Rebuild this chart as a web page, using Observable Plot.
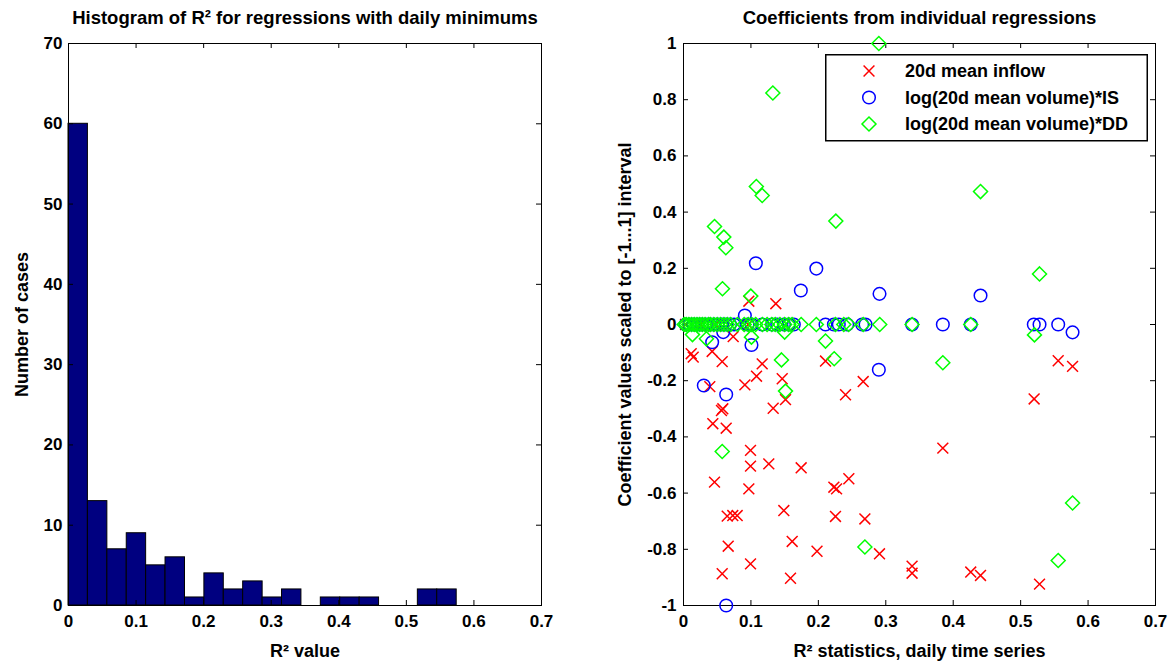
<!DOCTYPE html>
<html>
<head>
<meta charset="utf-8">
<script src="https://cdn.jsdelivr.net/npm/d3@7"></script>
<script src="https://cdn.jsdelivr.net/npm/@observablehq/plot@0.6"></script>
<style>
  body { margin: 0; background: #fff; }
  #wrap { position: relative; width: 1173px; height: 665px; overflow: hidden; }
  #left { position: absolute; left: 0; top: 0; }
  #right { position: absolute; left: 600px; top: 0; }
  #legend { position: absolute; left: 825px; top: 54px; }
  text { fill: #000; }
</style>
</head>
<body>
<div id="wrap">
  <div id="left"></div>
  <div id="right"></div>
  <div id="legend"></div>
</div>
<script>
// ---------- Left panel: histogram of R^2 ----------
const histTitle = "Histogram of R² for regressions with daily minimums";
const histXLabel = "R² value";
const histYLabel = "Number of cases";
const histCounts = [60, 13, 7, 9, 5, 6, 1, 4, 2, 3, 1, 2, 0, 1, 1, 1, 0, 0, 2, 2];
const histEdges = [0, 0.0287, 0.0575, 0.0862, 0.1149, 0.1436, 0.1724, 0.2011, 0.2298, 0.2585,
                   0.2873, 0.3160, 0.3447, 0.3734, 0.4021, 0.4309, 0.4596, 0.4883, 0.5170, 0.5457, 0.5745];
const histXTicks = [0, 0.1, 0.2, 0.3, 0.4, 0.5, 0.6, 0.7];
const histYTicks = [0, 10, 20, 30, 40, 50, 60, 70];

// ---------- Right panel: coefficients ----------
const scatTitle = "Coefficients from individual regressions";
const scatXLabel = "R² statistics, daily time series";
const scatYLabel = "Coefficient values scaled to [-1...1] interval";
const seriesNames = ["20d mean inflow", "log(20d mean volume)*IS", "log(20d mean volume)*DD"];
const scatXTicks = [0, 0.1, 0.2, 0.3, 0.4, 0.5, 0.6, 0.7];
const scatYTicks = [-1, -0.8, -0.6, -0.4, -0.2, 0, 0.2, 0.4, 0.6, 0.8, 1];

// 20d mean inflow (red x): [R2, coefficient]
const inflowR2 = [0.003, 0.025, 0.047, 0.096, 0.0969, 0.1369, 0.0737, 0.0114, 0.0144, 0.0425, 0.0574,
  0.1167, 0.2106, 0.1083, 0.091, 0.1464, 0.039, 0.2665, 0.2403, 0.1513, 0.133, 0.0563, 0.0583,
  0.0435, 0.0633, 0.0994, 0.0994, 0.1265, 0.1745, 0.046, 0.2452, 0.223, 0.227, 0.0969,
  0.0648, 0.0731, 0.0796, 0.1488, 0.2254, 0.269, 0.0663, 0.1612, 0.198, 0.2907, 0.0994,
  0.0574, 0.1587, 0.339, 0.339, 0.426, 0.4405, 0.528, 0.3846, 0.520, 0.5557, 0.577];
const inflowCoef = [0, 0, 0, 0, 0.083, 0.074, -0.043, -0.104, -0.116, -0.096, -0.132,
  -0.140, -0.130, -0.184, -0.215, -0.193, -0.221, -0.203, -0.250, -0.267, -0.298, -0.306, -0.300,
  -0.353, -0.369, -0.448, -0.504, -0.496, -0.510, -0.561, -0.549, -0.579, -0.585, -0.585,
  -0.682, -0.680, -0.680, -0.662, -0.683, -0.692, -0.789, -0.772, -0.807, -0.816, -0.852,
  -0.887, -0.903, -0.860, -0.885, -0.881, -0.893, -0.924, -0.440, -0.265, -0.129, -0.149];

// log(20d mean volume)*IS (blue o)
const isR2 = [0.1073, 0.197, 0.174, 0.2907, 0.4405, 0.091, 0.0425, 0.1008, 0.0589, 0.2897, 0.0301,
  0.0633, 0.0633, 0.577,
  0.003, 0.009, 0.015, 0.021, 0.027, 0.033, 0.039, 0.045, 0.051, 0.057, 0.063, 0.069, 0.075,
  0.095, 0.101, 0.1167, 0.1315, 0.139, 0.149, 0.156, 0.1636, 0.2106, 0.223, 0.2303, 0.2428,
  0.265, 0.27, 0.339, 0.3846, 0.426, 0.5195, 0.528, 0.5557];
const isCoef = [0.218, 0.199, 0.121, 0.109, 0.103, 0.032, -0.063, -0.073, -0.027, -0.161, -0.217,
  -0.249, -1.0, -0.028,
  0, 0, 0, 0, 0, 0, 0, 0, 0, 0, 0, 0, 0,
  0, 0, 0, 0, 0, 0, 0, 0, 0, 0, 0, 0,
  0, 0, 0, 0, 0, 0, 0, 0];

// log(20d mean volume)*DD (green diamond)
const ddR2 = [0.2897, 0.1325, 0.108, 0.1167, 0.046, 0.0598, 0.0628, 0.2259, 0.0578, 0.0998, 0.4405,
  0.528, 0.0133, 0.034, 0.1008, 0.150, 0.2106, 0.1453, 0.2235, 0.1513, 0.0574, 0.269, 0.3846,
  0.5205, 0.577, 0.5557,
  0.001, 0.004, 0.008, 0.012, 0.016, 0.020, 0.024, 0.028, 0.032, 0.037, 0.040, 0.045, 0.050,
  0.055, 0.060, 0.065, 0.070, 0.080, 0.090, 0.096, 0.101, 0.107, 0.117, 0.124, 0.131, 0.136,
  0.143, 0.150, 0.156, 0.161, 0.1745, 0.197, 0.2254, 0.2377, 0.245, 0.2665, 0.291, 0.339, 0.426];
const ddCoef = [1.0, 0.824, 0.491, 0.459, 0.349, 0.311, 0.273, 0.368, 0.127, 0.101, 0.473,
  0.180, -0.036, -0.051, -0.045, -0.027, -0.059, -0.126, -0.122, -0.237, -0.452, -0.792, -0.136,
  -0.037, -0.635, -0.840,
  0, 0, 0, 0, 0, 0, 0, 0, 0, 0, 0, 0, 0,
  0, 0, 0, 0, 0, 0, 0, 0, 0, 0, 0, 0, 0,
  0, 0, 0, 0, 0, 0, 0, 0, 0, 0, 0, 0, 0];

const seriesColors = ["#ff0000", "#0000ff", "#00ff00"];
const seriesSymbols = ["times", "circle", "diamond2"];

// ---------- build ----------
const FONT = "'Liberation Sans', Arial, Helvetica, sans-serif";
const W1 = 600, W2 = 573, H = 665;
const mTop = 43, mBottom = 60;
const innerH = H - mTop - mBottom;

const bins = histCounts.map((c, i) => ({x1: histEdges[i], x2: histEdges[i + 1], count: c}));

function boxTicks(xt, yt, innerW) {
  const st = {stroke: "#000", strokeWidth: 1};
  return [
    Plot.tickX(xt, {x: d => d, insetTop: innerH - 5, ...st}),
    Plot.tickX(xt, {x: d => d, insetBottom: innerH - 5, ...st}),
    Plot.tickY(yt, {y: d => d, insetRight: innerW - 5, ...st}),
    Plot.tickY(yt, {y: d => d, insetLeft: innerW - 5, ...st})
  ];
}

const left = Plot.plot({
  width: W1, height: H,
  marginLeft: 68, marginRight: 59, marginTop: mTop, marginBottom: mBottom,
  style: {fontFamily: FONT, fontSize: "17px", fontWeight: "bold", color: "#000", background: "#fff"},
  x: {domain: [0, 0.7]},
  y: {domain: [0, 70]},
  marks: [
    Plot.rectY(bins, {x1: "x1", x2: "x2", y: "count", fill: "#000080", stroke: "#000", strokeWidth: 1}),
    Plot.frame({stroke: "#000", strokeWidth: 1}),
    ...boxTicks(histXTicks, histYTicks, W1 - 68 - 59),
    Plot.axisX(histXTicks, {anchor: "bottom", tickSize: 0, tickPadding: 9, tickFormat: d => String(d), label: null, fontSize: 17}),
    Plot.axisY(histYTicks, {anchor: "left", tickSize: 0, tickPadding: 6, tickFormat: d => String(d), label: null, fontSize: 17}),
    Plot.text([histTitle], {text: d => d, frameAnchor: "top", dy: -25, lineAnchor: "middle", textAnchor: "middle", fontSize: 18.5, fontWeight: "bold"}),
    Plot.text([histXLabel], {text: d => d, frameAnchor: "bottom", dy: 46, lineAnchor: "middle", textAnchor: "middle", fontSize: 18, fontWeight: "bold"}),
    Plot.text([histYLabel], {text: d => d, frameAnchor: "left", dx: -46, rotate: -90, lineAnchor: "middle", textAnchor: "middle", fontSize: 18, fontWeight: "bold"})
  ]
});
document.getElementById("left").appendChild(left);

const scatter = [
  ...inflowR2.map((x, i) => ({x, y: inflowCoef[i], s: 0})),
  ...isR2.map((x, i) => ({x, y: isCoef[i], s: 1})),
  ...ddR2.map((x, i) => ({x, y: ddCoef[i], s: 2}))
];

const right = Plot.plot({
  width: W2, height: H,
  marginLeft: 83, marginRight: 18, marginTop: mTop, marginBottom: mBottom,
  style: {fontFamily: FONT, fontSize: "17px", fontWeight: "bold", color: "#000", background: "#fff"},
  x: {domain: [0, 0.7]},
  y: {domain: [-1, 1]},
  marks: [
    Plot.frame({stroke: "#000", strokeWidth: 1}),
    ...boxTicks(scatXTicks, scatYTicks, W2 - 83 - 18),
    Plot.dot(scatter.filter(d => d.s === 0), {x: "x", y: "y", symbol: () => seriesSymbols[0], stroke: seriesColors[0], r: 5, strokeWidth: 1.5}),
    Plot.dot(scatter.filter(d => d.s === 1), {x: "x", y: "y", symbol: () => seriesSymbols[1], stroke: seriesColors[1], r: 6.3, strokeWidth: 1.5}),
    Plot.dot(scatter.filter(d => d.s === 2), {x: "x", y: "y", symbol: () => seriesSymbols[2], stroke: seriesColors[2], r: 6.3, strokeWidth: 1.5}),
    Plot.axisX(scatXTicks, {anchor: "bottom", tickSize: 0, tickPadding: 9, tickFormat: d => String(d), label: null, fontSize: 17}),
    Plot.axisY(scatYTicks, {anchor: "left", tickSize: 0, tickPadding: 7, tickFormat: d => String(d), label: null, fontSize: 17}),
    Plot.text([scatTitle], {text: d => d, frameAnchor: "top", dy: -25, lineAnchor: "middle", textAnchor: "middle", fontSize: 18.5, fontWeight: "bold"}),
    Plot.text([scatXLabel], {text: d => d, frameAnchor: "bottom", dy: 46, lineAnchor: "middle", textAnchor: "middle", fontSize: 18, fontWeight: "bold"}),
    Plot.text([scatYLabel], {text: d => d, frameAnchor: "left", dx: -58, rotate: -90, lineAnchor: "middle", textAnchor: "middle", fontSize: 18, fontWeight: "bold"})
  ]
});
document.getElementById("right").appendChild(right);

// ---------- legend (overlay box inside right axes) ----------
const lg = d3.select("#legend").append("svg")
  .attr("width", 323).attr("height", 88)
  .style("font-family", FONT).style("font-weight", "bold").style("font-size", "18px");
lg.append("rect").attr("x", 0.75).attr("y", 0.75).attr("width", 321.5).attr("height", 86)
  .attr("fill", "#fff").attr("stroke", "#000").attr("stroke-width", 1.5);
const symMap = {times: d3.symbolTimes, circle: d3.symbolCircle, diamond2: d3.symbolDiamond2};
const symR = [5, 6.3, 6.3];
seriesNames.forEach((name, i) => {
  const cy = 17 + i * 26.5;
  lg.append("path")
    .attr("transform", `translate(44,${cy})`)
    .attr("d", d3.symbol(symMap[seriesSymbols[i]], Math.PI * symR[i] * symR[i])())
    .attr("fill", "none").attr("stroke", seriesColors[i]).attr("stroke-width", 1.5);
  lg.append("text").attr("x", 80).attr("y", cy).attr("dy", "0.35em").text(name);
});
</script>
</body>
</html>
